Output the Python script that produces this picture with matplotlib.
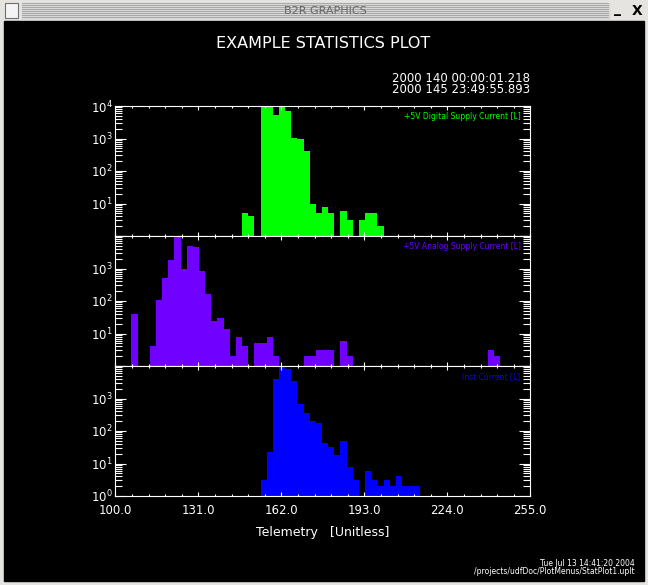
import numpy as np
import matplotlib
matplotlib.use('Agg')
import matplotlib.pyplot as plt
from matplotlib.patches import Rectangle
from matplotlib.ticker import FixedLocator, AutoMinorLocator, LogLocator, FuncFormatter, NullFormatter

# histogram bin grid (telemetry units)
bin_start = 106.0
bin_width = 2.297
n_bins = 60

# counts per bin
digital = [0] * 18 + [5, 4, 0, 15000, 15000, 5300, 15000, 7000, 1035, 970, 412,
                      10, 5, 8, 5, 0, 6, 3, 0, 3, 5, 5, 2] + [0] * 19
analog = [40, 0, 0, 4, 107, 510, 1830, 15000, 965, 4900, 4480, 835, 164, 25, 30,
          14, 2, 8, 4, 0, 5, 5, 8, 2, 0, 0, 0, 0, 2, 2, 3, 3, 3, 0, 6, 2] + [0] * 22 + [3, 2]
inst = [0] * 21 + [3, 22, 4000, 9500, 7900, 3460, 690, 360, 204, 176, 43, 32, 18,
                   49, 8, 3, 0, 6, 3, 2, 3, 2, 4, 2, 2, 2] + [0] * 13

series = [digital, analog, inst]
labels = ['+5V Digital Supply Current [L]', '+5V Analog Supply Current [L]', 'Inst Current [L]']
colors = ['#00ff00', '#7000ff', '#0000ff']
shown_decades = [[1, 2, 3, 4], [1, 2, 3], [0, 1, 2, 3]]

xticks = [100, 131, 162, 193, 224, 255]
title = 'EXAMPLE STATISTICS PLOT'
time_range = ['2000 140 00:00:01.218', '2000 145 23:49:55.893']
xlabel = 'Telemetry   [Unitless]'
footer = ['Tue Jul 13 14:41:20 2004', '/projects/udfDoc/PlotMenus/StatPlot1.uplt']

W, H = 648, 585
fig = plt.figure(figsize=(W / 100, H / 100), dpi=100, facecolor='#e6e4e0')

# window chrome, in pixel coords
bg = fig.add_axes([0, 0, 1, 1])
bg.set_xlim(0, W)
bg.set_ylim(H, 0)
bg.axis('off')
bg.add_patch(Rectangle((4, 20.5), 640, 560.5, color='black'))
bg.add_patch(Rectangle((22, 2.5), 587, 16, color='#d8d8d8'))
for yy in np.arange(3, 18, 2):
    bg.add_patch(Rectangle((22, yy), 587, 1, color='#a8a8a8', lw=0))
bg.add_patch(Rectangle((5, 3), 13, 15, facecolor='#f4f4f4', edgecolor='#707070', lw=0.8))
bg.text(325, 10.5, 'B2R GRAPHICS', color='#666666', fontsize=8, ha='center', va='center')
bg.text(618, 9, '_', color='black', fontsize=10, fontweight='bold', ha='center', va='center')
bg.text(637, 11, 'X', color='black', fontsize=10, fontweight='bold', ha='center', va='center')


def decade_fmt(shown):
    def f(v, pos):
        n = int(round(np.log10(v)))
        if n in shown:
            return r'$\mathdefault{10^{%d}}$' % n
        return ''
    return f


edges = bin_start + bin_width * np.arange(n_bins)
left, width = 115.3 / W, 415.0 / W
ph = 130.0 / H
bottoms = [1 - 236.0 / H, 1 - 366.0 / H, 1 - 496.0 / H]

for i, (counts, lab, col) in enumerate(zip(series, labels, colors)):
    ax = fig.add_axes([left, bottoms[i], width, ph])
    ax.set_facecolor('black')
    ax.set_yscale('log')
    counts = np.array(counts)
    keep = counts > 0
    ax.bar(edges[keep], counts[keep], width=bin_width, align='edge', color=col, lw=0)
    ax.set_xlim(100, 255)
    ax.set_ylim(1, 1e4)
    for s in ax.spines.values():
        s.set_color('white')
        s.set_linewidth(0.8)
    ax.xaxis.set_major_locator(FixedLocator(xticks))
    ax.xaxis.set_minor_locator(AutoMinorLocator(5))
    ax.yaxis.set_major_locator(LogLocator(base=10))
    ax.yaxis.set_minor_locator(LogLocator(base=10, subs=np.arange(2, 10)))
    ax.yaxis.set_major_formatter(FuncFormatter(decade_fmt(shown_decades[i])))
    ax.yaxis.set_minor_formatter(NullFormatter())
    ax.tick_params(which='both', direction='in', top=True, right=True, colors='white', width=0.8)
    ax.tick_params(axis='x', which='major', length=2.6, labelsize=8.5, pad=5.5)
    ax.tick_params(axis='x', which='minor', length=1.5)
    ax.tick_params(axis='y', which='major', length=8, labelsize=8.5, pad=2)
    ax.tick_params(axis='y', which='minor', length=5)
    if i < 2:
        ax.tick_params(axis='x', labelbottom=False)
    else:
        ax.xaxis.set_major_formatter(FuncFormatter(lambda v, p: '%.1f' % v))
        ax.set_xlabel(xlabel, color='white', fontsize=9, labelpad=7)
    ax.text(0.9764, 0.955, lab, transform=ax.transAxes, color=col, fontsize=5.5,
            ha='right', va='top')

fig.text(323.3 / W, 1 - 47.7 / H, title, color='white', fontsize=11.5, ha='center', va='baseline')
fig.text(530 / W, 1 - 81.7 / H, time_range[0], color='white', fontsize=8.5, ha='right', va='baseline')
fig.text(530 / W, 1 - 93.3 / H, time_range[1], color='white', fontsize=8.5, ha='right', va='baseline')
fig.text(635 / W, 1 - 565.5 / H, footer[0], color='white', fontsize=5.5, ha='right', va='baseline')
fig.text(635 / W, 1 - 573.5 / H, footer[1], color='white', fontsize=5.5, ha='right', va='baseline')

fig.savefig('out.png', dpi=100, facecolor=fig.get_facecolor())
